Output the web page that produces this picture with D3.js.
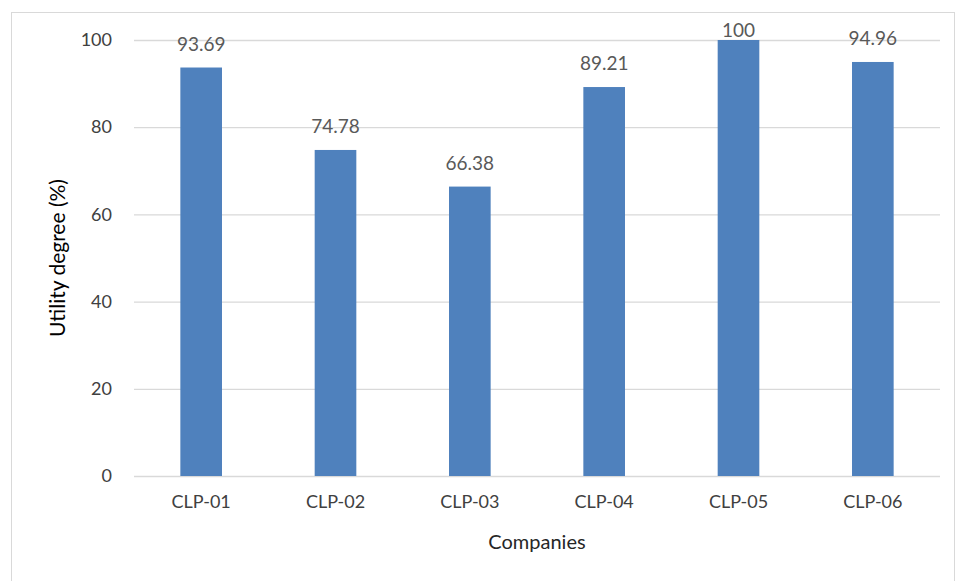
<!DOCTYPE html>
<html>
<head>
<meta charset="utf-8">
<script src="https://cdn.jsdelivr.net/npm/d3@7"></script>
<style>
  body { margin: 0; background: #fff; }
  text { font-family: Lato, "Open Sans", sans-serif; }
</style>
</head>
<body>
<div id="chart"></div>
<script>
// chart data
var companies = ["CLP-01", "CLP-02", "CLP-03", "CLP-04", "CLP-05", "CLP-06"];
var utility = [93.69, 74.78, 66.38, 89.21, 100, 94.96];
var yTicks = [0, 20, 40, 60, 80, 100];

var svgWidth = 956;
var svgHeight = 581;

var margin = {top: 40, right: 16, bottom: 105, left: 134};
var chart_width = svgWidth - margin.left - margin.right;
var chart_height = svgHeight - margin.top - margin.bottom;

var svg = d3.select("#chart")
  .append("svg")
  .attr("width", svgWidth)
  .attr("height", svgHeight);

// outer frame
svg.append("rect")
  .attr("x", 11.5)
  .attr("y", 12.5)
  .attr("width", svgWidth - 13)
  .attr("height", svgHeight)
  .attr("fill", "none")
  .attr("stroke", "#d9d9d9");

var chart_group = svg.append("g")
  .attr("transform", `translate(${margin.left}, ${margin.top})`);

var x = d3.scaleBand()
  .domain(companies)
  .range([0, chart_width])
  .paddingInner(0.69)
  .paddingOuter(0.345);

var y = d3.scaleLinear()
  .domain([0, 100])
  .range([chart_height, 0]);

// gridlines
chart_group.append("g")
  .call(d3.axisLeft(y).tickValues(yTicks).tickSize(-chart_width).tickFormat(""))
  .call(g => g.select(".domain").remove())
  .call(g => g.selectAll("line").attr("stroke", "#d9d9d9").attr("stroke-width", 1.3));

// y axis labels
chart_group.append("g")
  .call(d3.axisLeft(y).tickValues(yTicks).tickSize(0).tickPadding(22))
  .call(g => g.select(".domain").remove())
  .call(g => g.selectAll("text")
    .attr("font-size", "18px")
    .attr("fill", "#404040")
    .style("font-family", "Lato, 'Open Sans', sans-serif"));

// bars
chart_group.selectAll("rect.bar")
  .data(utility)
  .enter()
  .append("rect")
  .attr("class", "bar")
  .attr("x", (d, i) => x(companies[i]))
  .attr("y", d => y(d))
  .attr("width", x.bandwidth())
  .attr("height", d => chart_height - y(d))
  .attr("fill", "#4f81bd");

// value labels (kept inside the chart area like Excel does)
chart_group.selectAll("text.val")
  .data(utility)
  .enter()
  .append("text")
  .attr("class", "val")
  .attr("x", (d, i) => x(companies[i]) + x.bandwidth() / 2)
  .attr("y", d => Math.max(y(d) - 17, -3))
  .attr("text-anchor", "middle")
  .attr("font-size", "19px")
  .attr("fill", "#595959")
  .text(d => d);

// x axis
chart_group.append("g")
  .attr("transform", `translate(0, ${chart_height})`)
  .call(d3.axisBottom(x).tickSize(0).tickPadding(19))
  .call(g => g.select(".domain").remove())
  .call(g => g.selectAll("text")
    .attr("font-size", "18px")
    .attr("fill", "#404040")
    .style("font-family", "Lato, 'Open Sans', sans-serif"));

// x axis title
chart_group.append("text")
  .attr("x", chart_width / 2)
  .attr("y", chart_height + 73)
  .attr("text-anchor", "middle")
  .attr("font-size", "20px")
  .attr("fill", "#262626")
  .text("Companies");

// y axis title
chart_group.append("text")
  .attr("transform", "rotate(-90)")
  .attr("x", -(y(50) + 40 - margin.top))
  .attr("y", 58 - margin.left + 7)
  .attr("text-anchor", "middle")
  .attr("font-size", "21px")
  .attr("fill", "#000")
  .text("Utility degree (%)");
</script>
</body>
</html>
